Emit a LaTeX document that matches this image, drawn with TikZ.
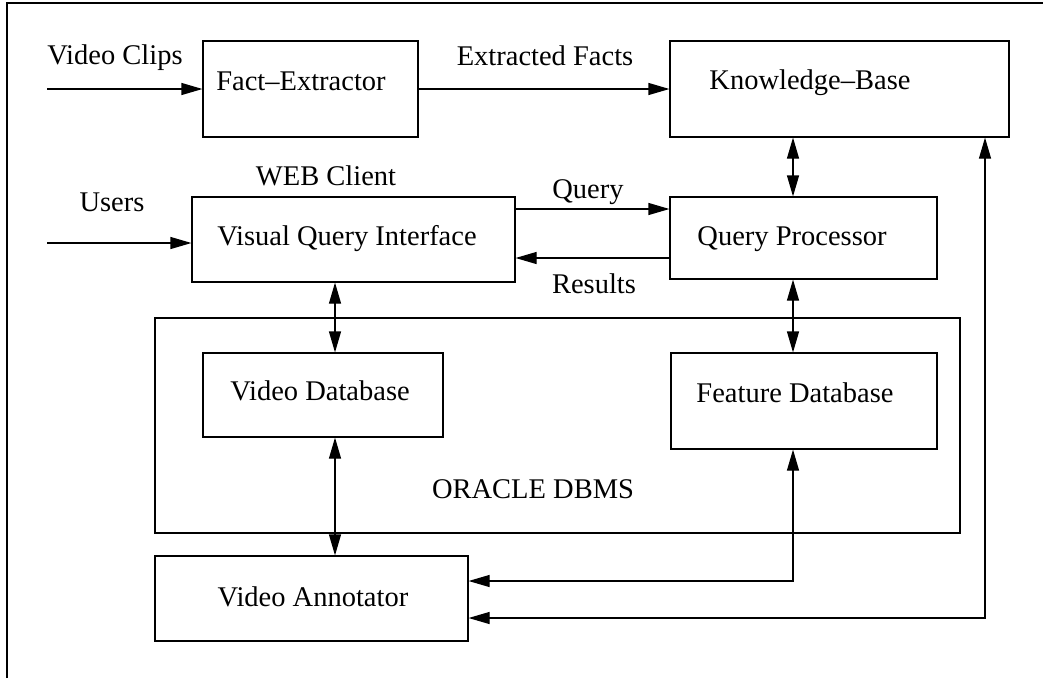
\documentclass[tikz,border=0pt]{standalone}
\usepackage{fontspec}
\setmainfont{Liberation Serif}
\usetikzlibrary{arrows.meta}
\begin{document}
\begin{tikzpicture}[x=1pt,y=-1pt,
  box/.style={draw, line width=1.2pt, inner sep=0pt},
  txt/.style={anchor=base, inner sep=0pt, font=\fontsize{28.5}{31}\selectfont},
  arr/.style={line width=1.2pt, -{Triangle[length=21pt,width=12pt]}},
  darr/.style={line width=1.2pt, {Triangle[length=21pt,width=12pt]}-{Triangle[length=21pt,width=12pt]}}]
\useasboundingbox (0,0) rectangle (1046,678);
% frame
\draw[line width=1.2pt] (7,678) -- (7,3) -- (1043,3);
% boxes
\node[box, minimum width=215pt, minimum height=96pt] (fe) at (310.5,89) {};
\node[box, minimum width=339pt, minimum height=96pt] (kb) at (839.5,89) {};
\node[box, minimum width=323pt, minimum height=85pt] (vqi) at (353.5,239.5) {};
\node[box, minimum width=267pt, minimum height=82pt] (qp) at (803.5,238) {};
\node[box, minimum width=805pt, minimum height=215pt] (dbms) at (557.5,425.5) {};
\node[box, minimum width=240pt, minimum height=84pt] (vdb) at (323,395) {};
\node[box, minimum width=266pt, minimum height=96pt] (fdb) at (804,401) {};
\node[box, minimum width=313pt, minimum height=85pt] (va) at (311.5,598.5) {};
% texts
\node[txt] (tvc) at (115,64) {Video Clips};
\node[txt] (tfe) at (301,90) {Fact--Extractor};
\node[txt] (tef) at (545,65) {Extracted Facts};
\node[txt] (tkb) at (810,89) {Knowledge--Base};
\node[txt] (tweb) at (326,185) {WEB Client};
\node[txt] (tus) at (112,211) {Users};
\node[txt] (tvqi) at (347,245) {Visual Query Interface};
\node[txt] (tq) at (588,198) {Query};
\node[txt] (tres) at (594,293) {Results};
\node[txt] (tqp) at (792,245) {Query Processor};
\node[txt] (tvdb) at (320,400) {Video Database};
\node[txt] (tfdb) at (795,402) {Feature Database};
\node[txt] (tdbms) at (533,498) {ORACLE DBMS};
\node[txt] (tva) at (313,606) {Video Annotator};
% coordinates
\coordinate (vcs) at (47,89);
\coordinate (uss) at (47,243);
\coordinate (qy) at (0,209);
\coordinate (ry) at (0,258);
\coordinate (x1) at (793,0);
\coordinate (x2) at (335,0);
\coordinate (c1) at (793,581);
\coordinate (c2) at (985,618);
% connectors
\draw[arr] (vcs) -- (fe.west |- vcs);
\draw[arr] (fe.east) -- (kb.west);
\draw[arr] (uss) -- (vqi.west |- uss);
\draw[arr] (vqi.east |- qy) -- (qp.west |- qy);
\draw[arr] (qp.west |- ry) -- (vqi.east |- ry);
\draw[darr] (kb.south -| x1) -- (qp.north -| x1);
\draw[darr] (vqi.south -| x2) -- (vdb.north -| x2);
\draw[darr] (qp.south -| x1) -- (fdb.north -| x1);
\draw[darr] (vdb.south -| x2) -- (va.north -| x2);
\draw[darr] (fdb.south -| c1) -- (c1) -- (va.east |- c1);
\draw[darr] (kb.south -| c2) -- (c2) -- (va.east |- c2);
\end{tikzpicture}
\end{document}
